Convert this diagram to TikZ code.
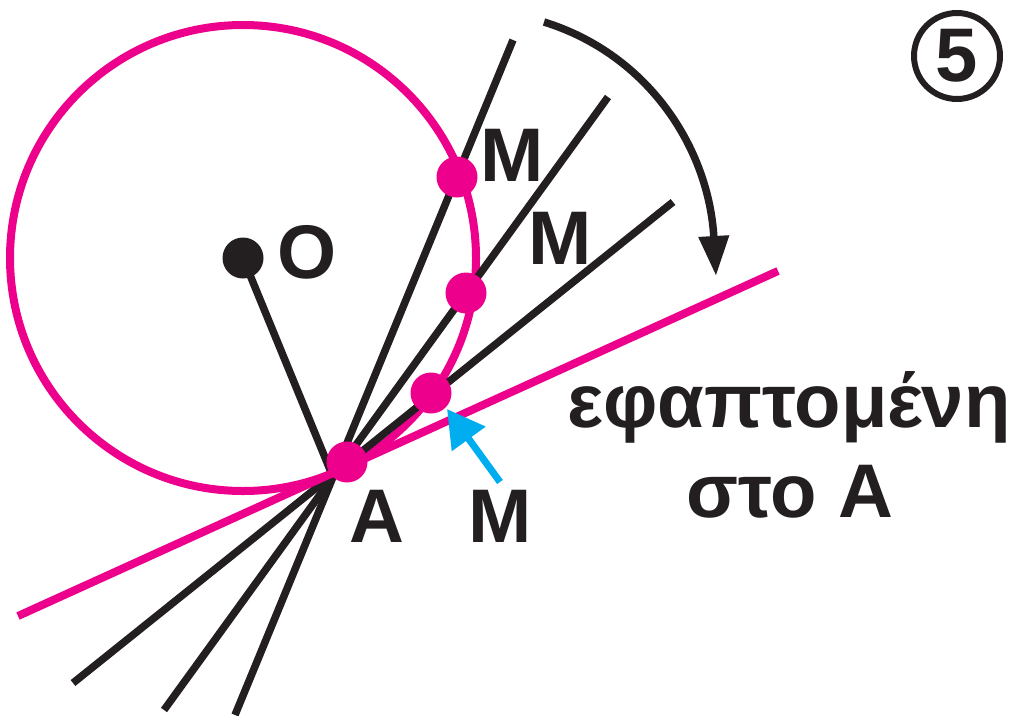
\documentclass[tikz,border=0pt]{standalone}
\usepackage{fontspec}
\setmainfont{Liberation Sans}
\usetikzlibrary{arrows.meta}
\definecolor{mag}{RGB}{236,0,140}
\definecolor{skyblue}{RGB}{0,174,239}
\definecolor{ink}{RGB}{35,31,32}
\tikzstyle{sweep} = [line width=7.5pt, draw=ink, -{Triangle[length=40pt,width=29pt]}]

\begin{document}
\begin{tikzpicture}[x=1pt, y=-1pt,
    ray/.style={line width=7.5pt, draw=ink},
    magline/.style={line width=8pt, draw=mag},
    pdot/.style={circle, fill=mag, minimum size=41pt, inner sep=0pt},
    cdot/.style={circle, fill=ink, minimum size=41pt, inner sep=0pt},
    lbl/.style={anchor=base, text=ink, inner sep=0pt,
                font=\fontsize{76}{90}\selectfont\bfseries},
    badge/.style={circle, draw=ink, line width=6pt, minimum size=86pt,
                  inner sep=0pt, text=ink, font=\fontsize{76}{90}\selectfont\bfseries},
    pointer/.style={line width=7pt, draw=skyblue, -{Triangle[length=37pt,width=40pt]}}
]
\useasboundingbox (0,0) rectangle (1011,715);

% Centre and circle
\node[cdot] (O) at (243,258) {};
\draw[magline] (O.center) circle[radius=233pt];

% Point where all lines meet
\coordinate (P) at (333,477);

% Secant ends
\coordinate (s1b) at (235,715); \coordinate (s1t) at (513,40);
\coordinate (s2b) at (164,710); \coordinate (s2t) at (608,97);
\coordinate (s3b) at (73,683);  \coordinate (s3t) at (673,202);
% Tangent ends
\coordinate (tb) at (18,616);   \coordinate (tt) at (778,271);

% Radius and secants
\draw[ray] (O.center) -- (P);
\draw[ray] (s1b) -- (s1t);
\draw[ray] (s2b) -- (s2t);
\draw[ray] (s3b) -- (s3t);

% Tangent - magenta
\draw[magline] (tb) -- (tt);

% Points on the circle
\node[pdot] (A) at (347,462) {};
\node[pdot] (M1) at (457,177) {};
\node[pdot] (M2) at (466,293) {};
\node[pdot] (M3) at (431,393) {};

% Labels
\node[lbl] (labO) at (307,278) {O};
\node[lbl] (labA) at (377,542) {A};
\node[lbl] (labM1) at (512,181) {M};
\node[lbl] (labM2) at (560,264) {M};
\node[lbl] (labM3) at (500,542) {M};
\node[lbl] (tan1) at (789,427) {εφαπτομένη};
\node[lbl] (tan2) at (790,517) {στο A};
\node[badge] (num) at (957,56) {5};

% Rotating arrow and pointer
\coordinate (sw1) at (544,22);  \coordinate (sw2) at (716,276);
\draw[sweep] (sw1) .. controls (650,55) and (709,150) .. (sw2);
\coordinate (pt1) at (500,482); \coordinate (pt2) at (447,409);
\draw[pointer] (pt1) -- (pt2);
\end{tikzpicture}
\end{document}
